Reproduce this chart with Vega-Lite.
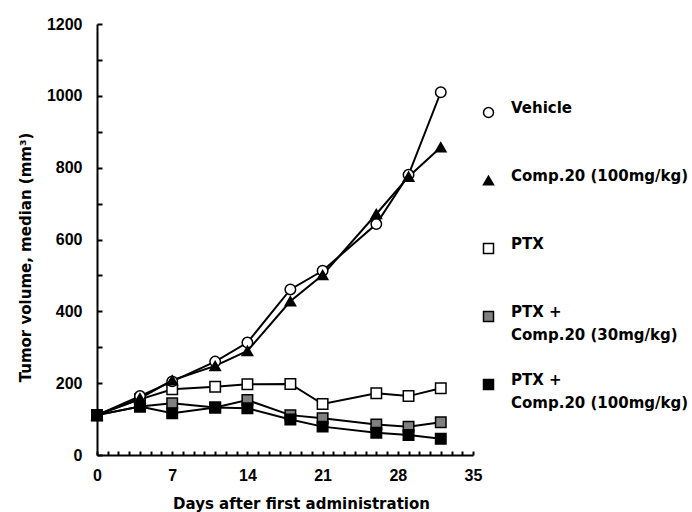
{
  "$schema": "https://vega.github.io/schema/vega-lite/v6.json",
  "width": 376,
  "height": 431,
  "autosize": {"type": "none"},
  "padding": {"left": 97, "top": 24, "right": 219, "bottom": 57},
  "background": "white",
  "config": {"view": {"stroke": null}, "style": {"guide-label": {"lineHeight": 23}}},
  "data": {
    "values": [
      {"group": "PTX + Comp.20 (30mg/kg)", "day": 0, "volume": 111},
      {"group": "PTX + Comp.20 (30mg/kg)", "day": 4, "volume": 135},
      {"group": "PTX + Comp.20 (30mg/kg)", "day": 7, "volume": 144},
      {"group": "PTX + Comp.20 (30mg/kg)", "day": 11, "volume": 132},
      {"group": "PTX + Comp.20 (30mg/kg)", "day": 14, "volume": 153},
      {"group": "PTX + Comp.20 (30mg/kg)", "day": 18, "volume": 111},
      {"group": "PTX + Comp.20 (30mg/kg)", "day": 21, "volume": 102},
      {"group": "PTX + Comp.20 (30mg/kg)", "day": 26, "volume": 85},
      {"group": "PTX + Comp.20 (30mg/kg)", "day": 29, "volume": 79},
      {"group": "PTX + Comp.20 (30mg/kg)", "day": 32, "volume": 91},
      {"group": "PTX", "day": 0, "volume": 111},
      {"group": "PTX", "day": 4, "volume": 155},
      {"group": "PTX", "day": 7, "volume": 183},
      {"group": "PTX", "day": 11, "volume": 190},
      {"group": "PTX", "day": 14, "volume": 197},
      {"group": "PTX", "day": 18, "volume": 198},
      {"group": "PTX", "day": 21, "volume": 142},
      {"group": "PTX", "day": 26, "volume": 172},
      {"group": "PTX", "day": 29, "volume": 164},
      {"group": "PTX", "day": 32, "volume": 186},
      {"group": "Vehicle", "day": 0, "volume": 111},
      {"group": "Vehicle", "day": 4, "volume": 164},
      {"group": "Vehicle", "day": 7, "volume": 205},
      {"group": "Vehicle", "day": 11, "volume": 260},
      {"group": "Vehicle", "day": 14, "volume": 313},
      {"group": "Vehicle", "day": 18, "volume": 461},
      {"group": "Vehicle", "day": 21, "volume": 513},
      {"group": "Vehicle", "day": 26, "volume": 643},
      {"group": "Vehicle", "day": 29, "volume": 780},
      {"group": "Vehicle", "day": 32, "volume": 1010},
      {"group": "Comp.20 (100mg/kg)", "day": 0, "volume": 111},
      {"group": "Comp.20 (100mg/kg)", "day": 4, "volume": 158},
      {"group": "Comp.20 (100mg/kg)", "day": 7, "volume": 208},
      {"group": "Comp.20 (100mg/kg)", "day": 11, "volume": 248},
      {"group": "Comp.20 (100mg/kg)", "day": 14, "volume": 290},
      {"group": "Comp.20 (100mg/kg)", "day": 18, "volume": 428},
      {"group": "Comp.20 (100mg/kg)", "day": 21, "volume": 501},
      {"group": "Comp.20 (100mg/kg)", "day": 26, "volume": 671},
      {"group": "Comp.20 (100mg/kg)", "day": 29, "volume": 775},
      {"group": "Comp.20 (100mg/kg)", "day": 32, "volume": 857},
      {"group": "PTX + Comp.20 (100mg/kg)", "day": 0, "volume": 111},
      {"group": "PTX + Comp.20 (100mg/kg)", "day": 4, "volume": 135},
      {"group": "PTX + Comp.20 (100mg/kg)", "day": 7, "volume": 116},
      {"group": "PTX + Comp.20 (100mg/kg)", "day": 11, "volume": 132},
      {"group": "PTX + Comp.20 (100mg/kg)", "day": 14, "volume": 130},
      {"group": "PTX + Comp.20 (100mg/kg)", "day": 18, "volume": 99},
      {"group": "PTX + Comp.20 (100mg/kg)", "day": 21, "volume": 79},
      {"group": "PTX + Comp.20 (100mg/kg)", "day": 26, "volume": 62},
      {"group": "PTX + Comp.20 (100mg/kg)", "day": 29, "volume": 56},
      {"group": "PTX + Comp.20 (100mg/kg)", "day": 32, "volume": 45}
    ]
  },
  "encoding": {
    "x": {
      "field": "day",
      "type": "quantitative",
      "scale": {"domain": [0, 35], "nice": false, "zero": false},
      "axis": {
        "values": [0,1,2,3,4,5,6,7,8,9,10,11,12,13,14,15,16,17,18,19,20,21,22,23,24,25,26,27,28,29,30,31,32,33,34,35],
        "labelExpr": "datum.value % 7 == 0 ? datum.label : ''",
        "labelOverlap": false,
        "labelFlush": false,
        "grid": false,
        "ticks": true,
        "tickSize": -4,
        "tickWidth": 2,
        "tickColor": "black",
        "tickOpacity": 1,
        "domainWidth": 2,
        "domainColor": "black",
        "zindex": 1,
        "labelFont": "Liberation Sans",
        "labelFontWeight": "bold",
        "labelFontSize": 16,
        "labelColor": "black",
        "labelPadding": 16,
        "title": "Days after first administration",
        "titleFont": "DejaVu Sans",
        "titleFontSize": 15,
        "titleFontWeight": "bold",
        "titleColor": "black",
        "titleX": 204,
        "titleY": 48,
        "titleBaseline": "middle"
      }
    },
    "y": {
      "field": "volume",
      "type": "quantitative",
      "scale": {"domain": [0, 1200], "nice": false},
      "axis": {
        "values": [0,100,200,300,400,500,600,700,800,900,1000,1100,1200],
        "labelExpr": "datum.value % 200 == 0 ? datum.label : ''",
        "format": "d",
        "labelOverlap": false,
        "labelFlush": false,
        "grid": false,
        "ticks": true,
        "tickSize": -5,
        "tickWidth": 2,
        "tickColor": "black",
        "tickOpacity": 1,
        "domainWidth": 2,
        "domainColor": "black",
        "zindex": 1,
        "labelFont": "Liberation Sans",
        "labelFontWeight": "bold",
        "labelFontSize": 16,
        "labelColor": "black",
        "labelPadding": 20,
        "title": "Tumor volume, median (mm³)",
        "titleFont": "DejaVu Sans",
        "titleFontSize": 15,
        "titleFontWeight": "bold",
        "titleColor": "black",
        "titleX": -72,
        "titleY": 233,
        "titleBaseline": "middle"
      }
    }
  },
  "layer": [
    {
      "mark": {"type": "line", "color": "black", "strokeWidth": 2},
      "encoding": {"detail": {"field": "group", "type": "nominal"}}
    },
    {
      "mark": {"type": "point", "filled": true, "stroke": "black", "strokeWidth": 1.5, "size": 110, "opacity": 1},
      "encoding": {
        "fill": {
          "field": "group",
          "type": "nominal",
          "scale": {
            "domain": ["Vehicle", "Comp.20 (100mg/kg)", "PTX", "PTX + Comp.20 (30mg/kg)", "PTX + Comp.20 (100mg/kg)"],
            "range": ["white", "black", "white", "#808080", "black"]
          },
          "legend": {
            "title": null,
            "orient": "none",
            "legendX": 384,
            "legendY": 81,
            "rowPadding": 29,
            "padding": 0,
            "symbolSize": 100,
            "symbolStrokeColor": "black",
            "symbolStrokeWidth": 1.5,
            "symbolOffset": 0,
            "labelOffset": 15,
            "labelLimit": 300,
            "labelFont": "DejaVu Sans",
            "labelFontWeight": "bold",
            "labelFontSize": 15,
            "labelColor": "black",
            "labelBaseline": "alphabetic",
            "labelExpr": "datum.value == 'PTX + Comp.20 (30mg/kg)' ? ['PTX +', 'Comp.20 (30mg/kg)'] : datum.value == 'PTX + Comp.20 (100mg/kg)' ? ['PTX +', 'Comp.20 (100mg/kg)'] : [datum.label, ' ']"
          }
        },
        "shape": {
          "field": "group",
          "type": "nominal",
          "scale": {
            "domain": ["Vehicle", "Comp.20 (100mg/kg)", "PTX", "PTX + Comp.20 (30mg/kg)", "PTX + Comp.20 (100mg/kg)"],
            "range": ["circle", "triangle-up", "square", "square", "square"]
          }
        }
      }
    }
  ]
}
